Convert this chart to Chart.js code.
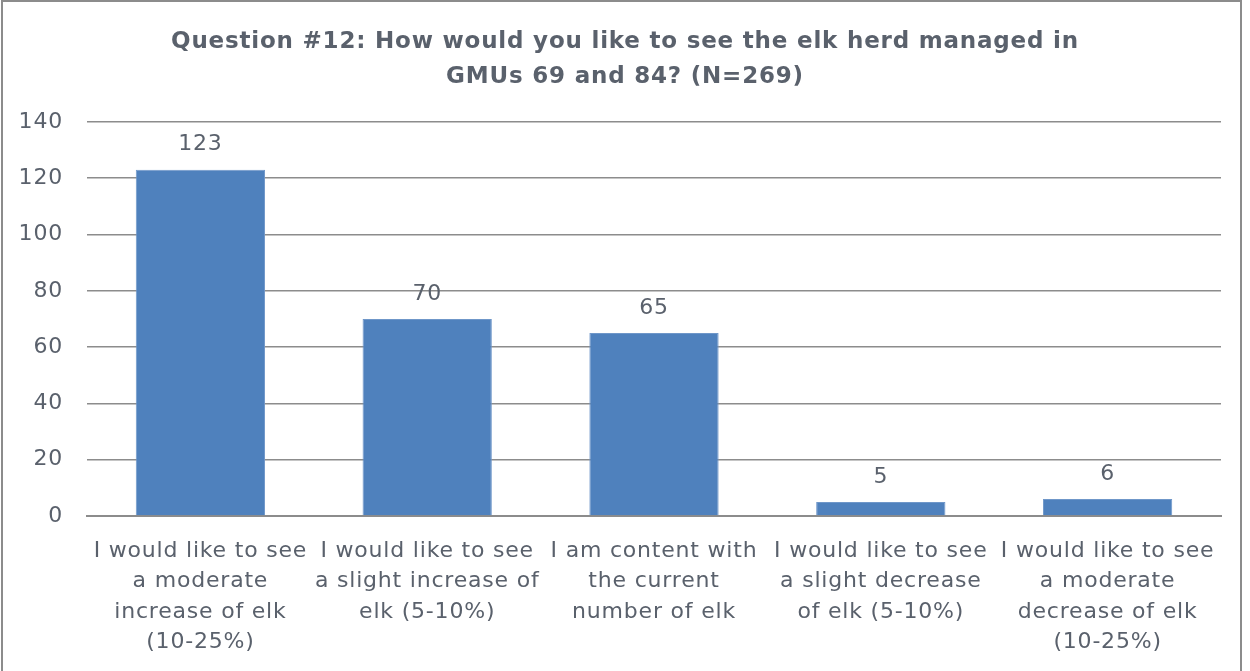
<!DOCTYPE html>
<html>
<head>
<meta charset="utf-8">
<script src="https://cdn.jsdelivr.net/npm/chart.js@4"></script>
<style>
    body { margin: 0; background: #fff; }
    #wrap { position: relative; width: 1250px; height: 671px; }
    #frame { position: absolute; left: 1px; top: 0; width: 1237px; height: 680px; border: 2px solid #8c8c8c; pointer-events: none; }
</style>
</head>
<body>
<div id="wrap">
    <canvas id="chart" width="1250" height="671"></canvas>
    <div id="frame"></div>
</div>
<script>
const chartTitle = ["Question #12: How would you like to see the elk herd managed in", "GMUs 69 and 84? (N=269)"];
const categories = [
    ["I would like to see", "a moderate", "increase of elk", "(10-25%)"],
    ["I would like to see", "a slight increase of", "elk (5-10%)"],
    ["I am content with", "the current", "number of elk"],
    ["I would like to see", "a slight decrease", "of elk (5-10%)"],
    ["I would like to see", "a moderate", "decrease of elk", "(10-25%)"]
];
const responses = [123, 70, 65, 5, 6];
const yTicks = [0, 20, 40, 60, 80, 100, 120, 140];

const textColor = "#5a616c";
const fontFamily = "'DejaVu Sans', sans-serif";

// espaçamento entre letras para imitar a fonte original
const spacing = {
    id: "spacing",
    beforeUpdate(chart) { chart.ctx.letterSpacing = "0.8px"; },
    beforeDraw(chart) { chart.ctx.letterSpacing = "0.8px"; }
};

// etiquetas de valor acima das barras
const valueLabels = {
    id: "valueLabels",
    afterDatasetsDraw(chart) {
        const ctx = chart.ctx;
        const meta = chart.getDatasetMeta(0);
        ctx.save();
        ctx.fillStyle = textColor;
        ctx.font = "22px " + fontFamily;
        ctx.textAlign = "center";
        ctx.textBaseline = "bottom";
        meta.data.forEach((bar, i) => {
            ctx.fillText(chart.data.datasets[0].data[i], bar.x, bar.y - 14);
        });
        ctx.restore();
    }
};

new Chart(document.getElementById("chart"), {
    type: "bar",
    data: {
        labels: categories,
        datasets: [{
            data: responses,
            backgroundColor: "#4f81bd",
            borderColor: "#6f97c9",
            borderWidth: 1,
            categoryPercentage: 0.57,
            barPercentage: 1
        }]
    },
    options: {
        responsive: false,
        animation: false,
        layout: { padding: 0 },
        plugins: {
            legend: { display: false },
            tooltip: { enabled: false },
            title: {
                display: true,
                text: chartTitle,
                color: textColor,
                font: { family: fontFamily, size: 23, weight: "bold", lineHeight: 1.52 },
                padding: { top: 25, bottom: 27 }
            }
        },
        scales: {
            x: {
                afterFit: scale => { scale.height = 155; },
                grid: { display: false, drawTicks: false },
                border: { color: "#8c8c8c", width: 2 },
                ticks: {
                    color: textColor,
                    font: { family: fontFamily, size: 22, lineHeight: 1.386 },
                    padding: 20,
                    maxRotation: 0,
                    autoSkip: false
                }
            },
            y: {
                min: 0,
                max: 140,
                afterBuildTicks: scale => { scale.ticks = yTicks.map(v => ({ value: v })); },
                afterFit: scale => { scale.width = 87; },
                grid: { color: "#8c8c8c", lineWidth: 1.5, drawTicks: false },
                border: { display: false },
                ticks: {
                    color: textColor,
                    font: { family: fontFamily, size: 22 },
                    padding: 24
                }
            },
            // eixo vazio só para reservar a margem direita
            yRight: {
                position: "right",
                afterFit: scale => { scale.width = 29; },
                grid: { display: false, drawTicks: false },
                border: { display: false },
                ticks: { display: false }
            }
        }
    },
    plugins: [spacing, valueLabels]
});
</script>
</body>
</html>
